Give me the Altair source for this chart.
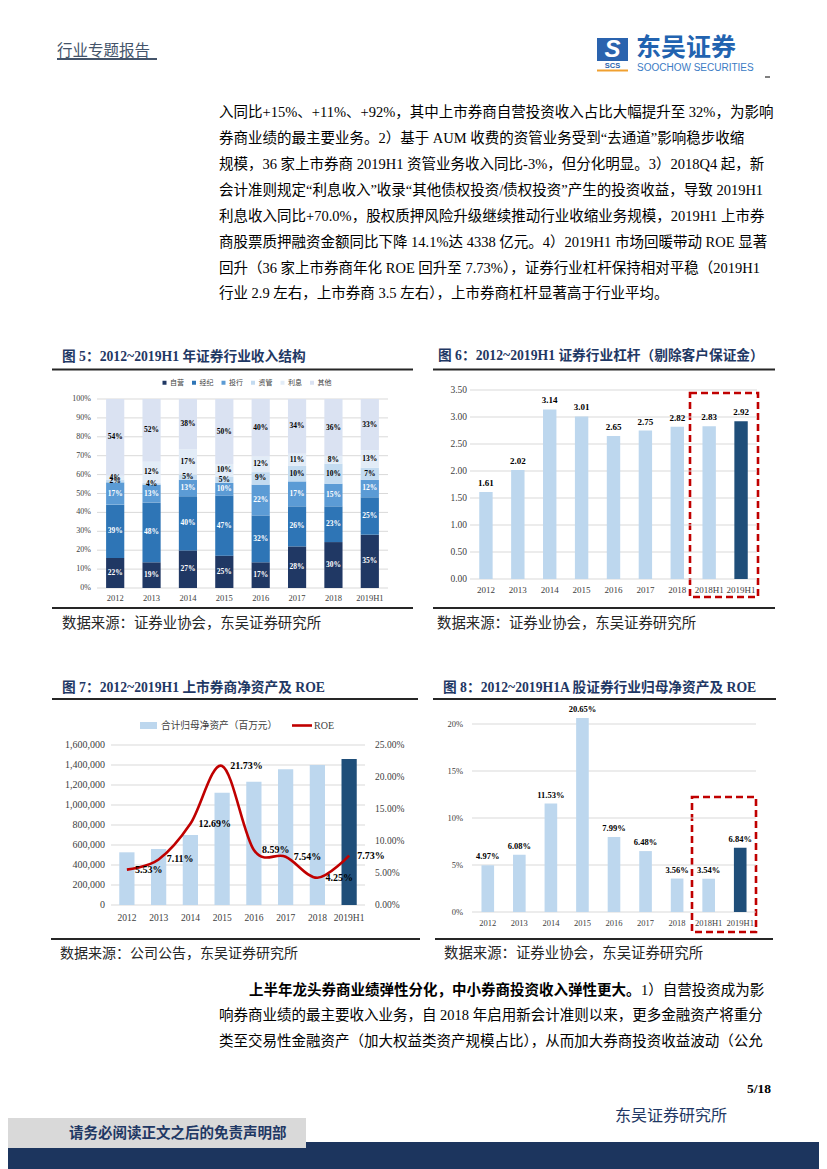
import altair as alt
import pandas as pd

W, H = 811, 1161
SERIF = "Liberation Serif, Noto Sans CJK SC"
CJK = "Noto Sans CJK SC"
SANS = "Liberation Sans"
NAVY = "#1f3864"
LIGHT = "#bdd7ee"
DARK = "#1f4e79"
RED = "#c00000"
GRID = "#d9d9d9"
AXC = "#404040"

# ---------------- data ----------------
years = ["2012", "2013", "2014", "2015", "2016", "2017", "2018", "2019H1"]
years_h = ["2012", "2013", "2014", "2015", "2016", "2017", "2018", "2018H1", "2019H1"]

# Fig 5: segment heights (as drawn) and the printed labels
cats5 = ["自营", "经纪", "投行", "资管", "利息", "其他"]
colors5 = ["#203864", "#2e75b6", "#5b9bd5", "#c3dbf0", "#e2ecf7", "#dae2f2"]
seg_ziying = [15.9, 13.6, 19.9, 17.1, 13.6, 22.0, 24.3, 28.2]
seg_jingji = [28.2, 31.7, 28.6, 31.8, 24.8, 21.2, 18.9, 19.8]
seg_touhang = [11.8, 9.4, 8.8, 6.7, 16.3, 13.2, 12.0, 9.3]
seg_ziguan = [1.5, 0.8, 2.8, 3.4, 6.6, 8.2, 10.6, 6.4]
seg_lixi = [2.0, 11.3, 13.2, 6.6, 8.3, 6.4, 4.0, 9.2]
seg_qita = [40.6, 33.2, 26.7, 34.4, 30.4, 29.0, 30.2, 27.1]
lab_ziying = [22, 19, 27, 25, 17, 28, 30, 35]
lab_jingji = [39, 48, 40, 47, 32, 26, 23, 25]
lab_touhang = [17, 13, 13, 10, 22, 17, 15, 12]
lab_ziguan = [2, 4, 5, 5, 9, 10, 10, 7]
lab_lixi = [4, 12, 17, 10, 12, 11, 8, 13]
lab_qita = [54, 52, 38, 50, 40, 34, 36, 33]
ticks5 = [0, 10, 20, 30, 40, 50, 60, 70, 80, 90, 100]

# Fig 6: leverage
lev6 = [1.61, 2.02, 3.14, 3.01, 2.65, 2.75, 2.82, 2.83, 2.92]
ticks6 = [0, 0.5, 1.0, 1.5, 2.0, 2.5, 3.0, 3.5]

# Fig 7: listed brokers net assets (million yuan) and ROE (%)
equity7 = [527000, 560000, 700000, 1123000, 1233000, 1357000, 1400000, 1460000]
roe7 = [5.53, 7.11, 12.69, 21.73, 8.59, 7.54, 4.25, 7.73]
ticks7_left = [0, 200000, 400000, 600000, 800000, 1000000, 1200000, 1400000, 1600000]
ticks7_right = [0, 5, 10, 15, 20, 25]

# Fig 8: industry ROE (%)
roe8 = [4.97, 6.08, 11.53, 20.65, 7.99, 6.48, 3.56, 3.54, 6.84]
ticks8 = [0, 5, 10, 15, 20]

# texts
header = "行业专题报告"
para1 = [
    "入同比+15%、+11%、+92%，其中上市券商自营投资收入占比大幅提升至 32%，为影响",
    "券商业绩的最主要业务。2）基于 AUM 收费的资管业务受到“去通道”影响稳步收缩",
    "规模，36 家上市券商 2019H1 资管业务收入同比-3%，但分化明显。3）2018Q4 起，新",
    "会计准则规定“利息收入”收录“其他债权投资/债权投资”产生的投资收益，导致 2019H1",
    "利息收入同比+70.0%，股权质押风险升级继续推动行业收缩业务规模，2019H1 上市券",
    "商股票质押融资金额同比下降 14.1%达 4338 亿元。4）2019H1 市场回暖带动 ROE 显著",
    "回升（36 家上市券商年化 ROE 回升至 7.73%），证券行业杠杆保持相对平稳（2019H1",
    "行业 2.9 左右，上市券商 3.5 左右），上市券商杠杆显著高于行业平均。",
]
para2_bold = "上半年龙头券商业绩弹性分化，中小券商投资收入弹性更大。"
para2_first = "1）自营投资成为影"
para2_rest = [
    "响券商业绩的最主要收入业务，自 2018 年启用新会计准则以来，更多金融资产将重分",
    "类至交易性金融资产（加大权益类资产规模占比），从而加大券商投资收益波动（公允",
]
title5 = "图 5：2012~2019H1 年证券行业收入结构"
title6 = "图 6：2012~2019H1 证券行业杠杆（剔除客户保证金）"
title7 = "图 7：2012~2019H1 上市券商净资产及 ROE"
title8 = "图 8：2012~2019H1A 股证券行业归母净资产及 ROE"
src_assoc = "数据来源：证券业协会，东吴证券研究所"
src_company = "数据来源：公司公告，东吴证券研究所"
legend7_bar = "合计归母净资产（百万元）"
legend7_line = "ROE"

# ---------------- helpers for page decoration ----------------
one = pd.DataFrame({"k": [0]})


def T(s, x, y, size, font=CJK, color="#000000", weight="normal", align="left",
      baseline="middle", style=None, lh=None):
    kw = dict(font=font, fontSize=size, color=color, fontWeight=weight,
              align=align, baseline=baseline)
    if style:
        kw["fontStyle"] = style
    if lh:
        kw["lineBreak"] = "\n"
        kw["lineHeight"] = lh
    return alt.Chart(one).mark_text(**kw).encode(
        x=alt.value(x), y=alt.value(y), text=alt.value(s))


def R(x1, x2, y, color="#262626", width=2.0):
    return alt.Chart(one).mark_rule(color=color, strokeWidth=width).encode(
        x=alt.value(x1), x2=alt.value(x2), y=alt.value(y))


def REC(x1, x2, y1, y2, fill):
    return alt.Chart(one).mark_rect(color=fill).encode(
        x=alt.value(x1), x2=alt.value(x2), y=alt.value(y1), y2=alt.value(y2))


def BOX(x1, x2, y1, y2):
    return alt.Chart(one).mark_rect(fillOpacity=0, stroke=RED, strokeWidth=2.6,
                                    strokeDash=[7, 4]).encode(
        x=alt.value(x1), x2=alt.value(x2), y=alt.value(y1), y2=alt.value(y2))


bg = [
    # header
    T(header, 49, 43, 15.5, color="#44546a"),
    R(49, 149, 51, color="#44546a", width=2),
    # logo
    REC(589, 620, 30, 53, "#2a63ae"),
    T("S", 604.5, 42, 24, font=SANS, color="white", weight="bold", align="center", style="italic"),
    T("SCS", 604.5, 58, 7.5, font=SANS, color="#2a63ae", weight="bold", align="center"),
    R(589, 620, 62.5, color="#f0a030", width=2),
    T("东吴证券", 628, 40, 25, color="#2263b0", weight="bold"),
    T("SOOCHOW SECURITIES", 629, 60, 10, font=SANS, color="#3b7bc4"),
    R(757, 762, 69, color="#000000", width=1),
    # top paragraph
    T("\n".join(para1), 211, 98.4, 14.5, font=SERIF, baseline="top", lh=25.86),
    # figure titles and rules
    T(title5, 54, 349, 13.7, font=SERIF, color=NAVY, weight="bold"),
    T(title6, 430, 348, 13.7, font=SERIF, color=NAVY, weight="bold"),
    R(44, 405, 361.5), R(425, 767, 361.5),
    R(44, 405, 600), R(425, 767, 600),
    T(src_assoc, 54, 616, 14.4, color="#262626"),
    T(src_assoc, 429, 616, 14.4, color="#262626"),
    T(title7, 54, 680, 13.7, font=SERIF, color=NAVY, weight="bold"),
    T(title8, 435, 680, 13.7, font=SERIF, color=NAVY, weight="bold"),
    R(44, 410, 691), R(425, 768, 691),
    R(43, 412, 931), R(427, 765, 931),
    T(src_company, 52, 946, 14.0, color="#262626"),
    T(src_assoc, 436, 946, 14.4, color="#262626"),
    # fig 7 custom legend
    REC(132, 149, 714, 721, LIGHT),
    T(legend7_bar, 153, 718, 9.7, color="#404040"),
    R(284, 304, 717.5, color=RED, width=2.6),
    T(legend7_line, 306, 718, 10, font=SERIF, color="#404040"),
    # dashed highlight boxes
    BOX(682, 750, 385, 589),
    BOX(684, 748, 789, 924),
    # bottom paragraph
    T(para2_bold, 241, 983, 14.5, weight="bold"),
    T(para2_first, 633, 983, 14.5, font=SERIF),
    T("\n".join(para2_rest), 211, 1001.4, 14.5, font=SERIF, baseline="top", lh=25.6),
    # page footer
    T("5/18", 763, 1081, 13.5, font=SERIF, weight="bold", align="right"),
    T("东吴证券研究所", 607, 1108, 16, color=NAVY),
    REC(0, 811, 1134, 1161, "#1c355e"),
    REC(0, 298, 1110, 1140, "#d9d9d9"),
    T("请务必阅读正文之后的免责声明部", 61, 1126, 14.5, color=NAVY, weight="bold"),
]


# ---------------- figure helpers (hand-made axes through the scales) ----------------
def xsc(cats, rng, pin):
    return alt.Scale(domain=cats, range=rng, paddingInner=pin, paddingOuter=pin / 2)


def xlabels(cats, xs, ypix, size):
    return alt.Chart(pd.DataFrame({"year": cats})).mark_text(
        font=SERIF, fontSize=size, color=AXC, baseline="middle").encode(
        x=alt.X("year:N", scale=xs, axis=None), y=alt.value(ypix), text="year:N")


def ygrid(ticks, ys, x1, x2):
    return alt.Chart(pd.DataFrame({"t": ticks})).mark_rule(color=GRID, strokeWidth=1).encode(
        y=alt.Y("t:Q", scale=ys, axis=None), x=alt.value(x1), x2=alt.value(x2))


def ylabels(ticks, ys, xpix, size, expr, align="right"):
    return alt.Chart(pd.DataFrame({"t": ticks})).transform_calculate(lab=expr).mark_text(
        font=SERIF, fontSize=size, color=AXC, align=align, baseline="middle").encode(
        y=alt.Y("t:Q", scale=ys, axis=None), x=alt.value(xpix), text="lab:N")


# ---------------- Fig 5 ----------------
segs = [seg_ziying, seg_jingji, seg_touhang, seg_ziguan, seg_lixi, seg_qita]
labs = [lab_ziying, lab_jingji, lab_touhang, lab_ziguan, lab_lixi, lab_qita]
rows = []
for yi, yr in enumerate(years):
    for ci, c in enumerate(cats5):
        rows.append({"year": yr, "cat": c, "order": ci,
                     "h": segs[ci][yi], "lab": f"{labs[ci][yi]}%"})
df5 = pd.DataFrame(rows)

base5 = alt.Chart(df5).transform_stack(
    stack="h", groupby=["year"], sort=[alt.SortField("order", "ascending")],
    as_=["h0", "h1"]
).transform_calculate(mid="(datum.h0 + datum.h1) / 2")

sc5x = xsc(years, [89, 380], 0.5)
sc5y = alt.Scale(domain=[0, 100], range=[580, 391], nice=False)
bars5 = base5.mark_bar().encode(
    x=alt.X("year:N", scale=sc5x, axis=None),
    y=alt.Y("h0:Q", scale=sc5y, axis=None),
    y2="h1:Q",
    color=alt.Color("cat:N", scale=alt.Scale(domain=cats5, range=colors5),
                    legend=alt.Legend(orient="none", legendX=153, legendY=371,
                                      direction="horizontal", title=None,
                                      symbolType="square", symbolSize=16,
                                      symbolStrokeWidth=0, labelFont=CJK,
                                      labelFontSize=7, labelColor="#404040",
                                      columnPadding=6.5, labelOffset=2, padding=0)),
)
text5 = base5.mark_text(font=SERIF, fontWeight="bold", fontSize=7.5).encode(
    x=alt.X("year:N", scale=sc5x, axis=None),
    y=alt.Y("mid:Q", scale=sc5y, axis=None),
    text="lab:N",
    color=alt.condition(alt.datum.order < 3, alt.value("white"), alt.value("black")),
)
fig5 = alt.layer(
    ygrid(ticks5, sc5y, 89, 380),
    ylabels(ticks5, sc5y, 83, 8, "datum.t + '%'"),
    xlabels(years, sc5x, 590, 8.5),
    bars5, text5)

# ---------------- Fig 6 ----------------
df6 = pd.DataFrame({"year": years_h, "v": lev6})
sc6x = xsc(years_h, [462, 749], 0.58)
sc6y = alt.Scale(domain=[0, 3.5], range=[571, 382], nice=False)
bars6 = alt.Chart(df6).mark_bar().encode(
    x=alt.X("year:N", scale=sc6x, axis=None),
    y=alt.Y("v:Q", scale=sc6y, axis=None),
    color=alt.condition(alt.datum.year == "2019H1", alt.value(DARK), alt.value(LIGHT)),
)
text6 = alt.Chart(df6).mark_text(font=SERIF, fontWeight="bold", fontSize=9, dy=-9,
                                 color="#000000").encode(
    x=alt.X("year:N", scale=sc6x, axis=None),
    y=alt.Y("v:Q", scale=sc6y, axis=None),
    text=alt.Text("v:Q", format=".2f"),
)
fig6 = alt.layer(
    ygrid(ticks6, sc6y, 462, 749),
    ylabels(ticks6, sc6y, 459, 9.5, "format(datum.t, '.2f')"),
    xlabels(years_h, sc6x, 582, 9),
    bars6, text6)

# ---------------- Fig 7 ----------------
df7 = pd.DataFrame({"year": years, "eq": equity7, "roe": roe7})
sc7x = xsc(years, [103, 357], 0.52)
sc7eq = alt.Scale(domain=[0, 1600000], range=[897, 737], nice=False)
sc7roe = alt.Scale(domain=[0, 25], range=[897, 737], nice=False)
bars7 = alt.Chart(df7).mark_bar().encode(
    x=alt.X("year:N", scale=sc7x, axis=None),
    y=alt.Y("eq:Q", scale=sc7eq, axis=None),
    color=alt.condition(alt.datum.year == "2019H1", alt.value(DARK), alt.value(LIGHT)),
)
line7 = alt.Chart(df7).mark_line(color=RED, strokeWidth=2.6, interpolate="cardinal").encode(
    x=alt.X("year:N", scale=sc7x, axis=None),
    y=alt.Y("roe:Q", scale=sc7roe, axis=None),
)
text7 = alt.Chart(df7).transform_calculate(
    lab="format(datum.roe, '.2f') + '%'"
).mark_text(font=SERIF, fontWeight="bold", fontSize=10, align="left", dx=8,
            color="#000000").encode(
    x=alt.X("year:N", scale=sc7x, axis=None),
    y=alt.Y("roe:Q", scale=sc7roe, axis=None),
    text="lab:N",
)
left7 = alt.layer(
    ygrid(ticks7_left, sc7eq, 103, 357),
    ylabels(ticks7_left, sc7eq, 97, 10, "format(datum.t, ',')"),
    xlabels(years, sc7x, 910, 9.5),
    bars7)
right7 = alt.layer(
    ylabels(ticks7_right, sc7roe, 367, 9.5, "format(datum.t, '.2f') + '%'", align="left"),
    line7, text7)
fig7 = alt.layer(left7, right7).resolve_scale(y="independent")

# ---------------- Fig 8 ----------------
df8 = pd.DataFrame({"year": years_h, "v": roe8})
sc8x = xsc(years_h, [464, 748], 0.6)
sc8y = alt.Scale(domain=[0, 20], range=[904, 716], nice=False)
bars8 = alt.Chart(df8).mark_bar().encode(
    x=alt.X("year:N", scale=sc8x, axis=None),
    y=alt.Y("v:Q", scale=sc8y, axis=None),
    color=alt.condition(alt.datum.year == "2019H1", alt.value(DARK), alt.value(LIGHT)),
)
text8 = alt.Chart(df8).transform_calculate(
    lab="format(datum.v, '.2f') + '%'"
).mark_text(font=SERIF, fontWeight="bold", fontSize=8.5, dy=-9, color="#000000").encode(
    x=alt.X("year:N", scale=sc8x, axis=None),
    y=alt.Y("v:Q", scale=sc8y, axis=None),
    text="lab:N",
)
fig8 = alt.layer(
    ygrid(ticks8, sc8y, 464, 748),
    ylabels(ticks8, sc8y, 455, 8.5, "datum.t + '%'"),
    xlabels(years_h, sc8x, 915, 8.5),
    bars8, text8)

chart = alt.layer(*bg, fig5, fig6, fig7, fig8).resolve_scale(
    x="independent", y="independent"
).properties(width=W, height=H, padding=0, background="white").configure_view(strokeWidth=0)

chart.save("out.html", embed_options={"renderer": "svg", "actions": False})
